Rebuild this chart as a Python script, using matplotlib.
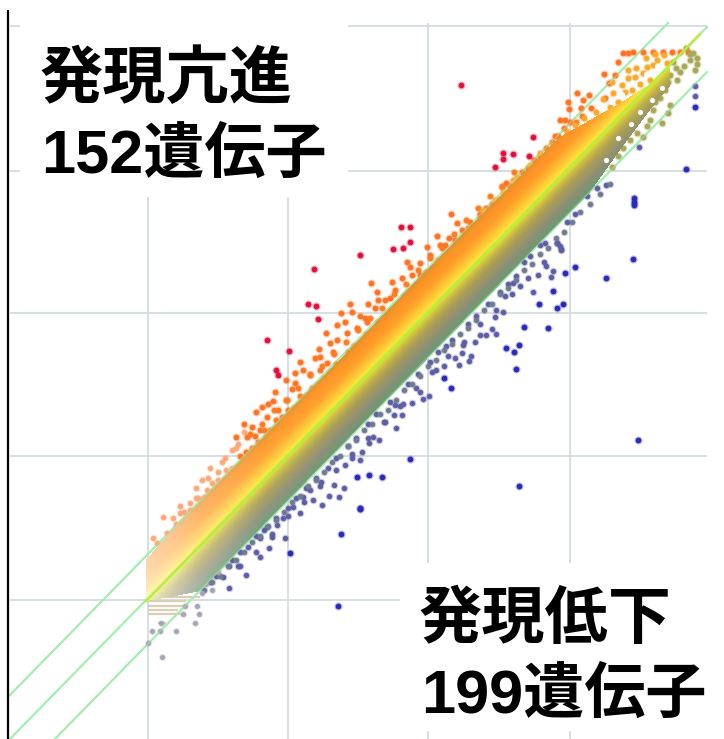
import numpy as np
import matplotlib
matplotlib.use('Agg')
import matplotlib.pyplot as plt
from matplotlib.colors import LinearSegmentedColormap

plt.rcParams['font.family'] = ['Liberation Sans', 'Noto Sans CJK JP', 'DejaVu Sans']

# scale of the plot is arbitrary (no tick labels), y grows downwards
grid_x = [148, 288, 428, 570]
grid_y = [26, 171, 313, 456, 600]

# fold-change guide lines
guide_x = [8, 707]
guide_mid = [741, 27]
guide_up_x = [8, 668]
guide_up = [697, 23]
guide_lo_x = [52, 707]
guide_lo = [742, 72]

# solid body of the cloud
band_x = [146, 170, 200, 263, 350, 427, 500, 560, 590, 620, 650, 670]
band_up = [560, 532, 501, 437, 349, 269, 197, 137, 120, 103, 84, 66]
band_mid = [601, 577, 546, 481, 393, 314, 240, 178, 148, 117, 87, 66]
band_lo = [601, 597, 591, 526, 437, 359, 284, 222, 192, 150, 110, 86]
band_fade = [0.62, 0.5, 0.3, 0.06, 0, 0, 0, 0, 0, 0, 0, 0]

# white holes where the cloud thins out at the top right
gap_x = [600, 611, 622, 634, 646, 657, 640, 652, 662, 631, 618, 606]
gap_y = [108, 102, 94, 84, 74, 66, 112, 100, 88, 124, 138, 160]

# low intensity rows, they look like stripes
row_y = [597, 601, 606, 610, 614, 623]
row_x0 = [148, 148, 148, 148, 148, 158]
row_x1 = [200, 186, 184, 178, 186, 166]

red_x = [461, 401, 410, 360, 314, 308, 316, 318, 267, 289, 393, 403, 410, 276, 278, 495, 503, 503, 513, 529, 533]
red_y = [85, 227, 227, 255, 269, 304, 306, 319, 340, 351, 249, 248, 242, 370, 375, 167, 153, 159, 154, 156, 137]

orange_x = [451, 457, 437, 449, 427, 440, 430, 407, 410, 420, 371, 392, 377, 402, 412, 420, 350, 352, 368, 378,
            390, 341, 360, 375, 337, 326, 319, 315, 330, 347, 357, 367, 337, 320, 327, 303, 295, 310, 320, 286,
            295, 275, 273, 262, 256, 287, 278, 267, 252, 260, 236, 247, 255, 555, 560, 565, 569, 568, 577, 583,
            589, 581, 591, 604, 615, 618, 609, 605, 623, 628, 633, 643, 653, 663, 672, 680, 688, 502, 506, 470,
            480, 462, 486, 445, 455, 395, 385, 365, 345, 333, 300, 292, 268, 244]
orange_y = [214, 223, 236, 238, 247, 245, 255, 262, 267, 263, 283, 282, 292, 278, 275, 275, 304, 312, 304, 300,
            298, 313, 316, 308, 325, 333, 349, 358, 343, 333, 328, 322, 340, 357, 363, 370, 373, 375, 370, 380,
            383, 392, 401, 407, 412, 400, 410, 417, 427, 430, 437, 437, 436, 136, 120, 120, 109, 102, 93, 100,
            95, 108, 108, 74, 75, 62, 83, 98, 53, 53, 52, 52, 52, 52, 52, 52, 52, 187, 183, 222, 214, 230,
            208, 245, 240, 290, 300, 318, 322, 352, 362, 389, 404, 424]

# dense orange rim just over the body
rim_up_x = [240, 246, 252, 258, 264, 270, 276, 282, 288, 294, 300, 306, 312, 318, 324, 330, 336, 342, 348, 354,
            360, 366, 372, 378, 384, 390, 396, 402, 408, 414, 420, 426, 432, 438, 444, 450, 456, 462, 468, 474,
            480, 486, 492, 498, 504, 510, 516, 522, 528, 534, 540, 546, 552, 558, 564, 570, 576, 582,
            250, 262, 274, 286, 298, 310, 322, 334, 346, 358, 370, 382, 394, 406, 418, 430, 442, 454, 466, 478,
            490, 502, 514]
rim_up_y = [456, 452, 448, 442, 430, 430, 420, 417, 410, 408, 396, 396, 388, 384, 378, 372, 364, 362, 352, 346,
            344, 334, 332, 322, 320, 312, 306, 302, 292, 290, 282, 272, 270, 260, 256, 250, 244, 238, 228, 226,
            216, 214, 204, 200, 194, 186, 182, 172, 168, 160, 156, 148, 142, 136, 128, 122, 122, 116,
            434, 424, 410, 400, 388, 374, 366, 354, 342, 330, 318, 308, 294, 284, 270, 258, 248, 234, 220, 208,
            196, 186, 172]

pale_x = [163, 173, 190, 180, 153, 157, 167, 207, 202, 244, 238, 225, 210, 232, 218, 196,
          176, 184, 190, 198, 204, 212, 218, 226, 232, 180, 196, 208, 222, 236]
pale_y = [517, 518, 503, 513, 538, 543, 533, 490, 480, 432, 444, 458, 468, 450, 472, 498,
          524, 512, 510, 498, 497, 483, 480, 470, 468, 506, 488, 478, 462, 448]

amber_x = [628, 635, 622, 625, 647, 643, 657, 653, 667, 613, 603, 575, 590, 600, 610, 530, 540, 517, 553, 567,
           513, 503, 495, 483, 618, 632, 640, 596, 584, 636, 646, 655, 664, 650, 628, 612]
amber_y = [78, 77, 85, 92, 67, 73, 60, 65, 63, 93, 99, 125, 123, 117, 107, 165, 153, 177, 145, 132,
           180, 192, 200, 210, 102, 90, 84, 112, 118, 68, 58, 54, 55, 80, 70, 82]

olive_x = [693, 697, 690, 695, 680, 670, 677, 665, 660, 670, 653, 668, 637, 643, 662, 623, 612, 686, 673, 650, 640, 628, 660, 618,
           697, 690, 684, 676, 668, 655, 647, 634, 630]
olive_y = [53, 58, 60, 70, 72, 75, 80, 90, 98, 105, 110, 113, 133, 137, 123, 148, 167, 48, 62, 120, 116, 128, 84, 156,
           64, 54, 66, 68, 82, 102, 126, 122, 140]

# grey-green rim under the body
rim_lo_x = [204, 212, 220, 228, 236, 244, 252, 260, 268, 276, 284, 292, 300, 308, 316, 324, 332, 340, 348, 356,
            364, 372, 380, 388, 396, 404, 412, 420, 428, 436, 444, 452, 460, 468, 476, 484, 492, 500, 508, 516,
            524, 532, 540, 548, 556, 564, 572, 580, 590, 600, 610]
rim_lo_y = [590, 582, 576, 566, 560, 552, 542, 536, 526, 520, 512, 502, 496, 486, 480, 472, 462, 456, 446, 440,
            430, 424, 414, 410, 400, 390, 384, 376, 366, 360, 350, 344, 334, 328, 320, 310, 304, 294, 288, 280,
            270, 264, 254, 248, 238, 232, 222, 212, 204, 194, 184]

slate_x = [695, 695, 639, 606, 597, 587, 575, 567, 557, 545, 561, 557, 561, 546, 553, 551, 538, 533, 513, 520,
           505, 503, 495, 492, 496, 486, 480, 475, 463, 462, 471, 469, 455, 459, 436, 444, 429, 423, 420, 412,
           403, 395, 402, 394, 385, 396, 379, 373, 369, 362, 360, 352, 345, 344, 334, 339, 329, 322, 321, 313,
           310, 303, 300, 293, 283, 277, 267, 260, 272, 269, 260, 248, 246, 238, 229, 229, 223, 285,
           540, 530, 524, 516, 508, 500, 488, 476, 468, 452, 446, 438, 430, 418, 408, 390, 376, 368, 356, 348,
           336, 328, 316, 306, 296, 288, 276, 264, 256, 240, 232, 216, 210,
           240, 256, 272, 288, 304, 320, 336, 352, 368, 384, 400, 416, 432, 448, 464, 480, 496, 512, 528, 544, 560]
slate_y = [96, 86, 147, 185, 188, 196, 214, 222, 243, 243, 249, 243, 250, 266, 271, 277, 275, 292, 283, 286,
           296, 312, 317, 329, 334, 335, 335, 342, 345, 353, 356, 361, 358, 365, 370, 366, 396, 399, 392, 403,
           404, 405, 415, 415, 422, 428, 440, 437, 443, 452, 460, 458, 465, 488, 485, 497, 496, 505, 482, 500,
           490, 497, 513, 507, 518, 525, 527, 538, 537, 548, 557, 547, 575, 566, 588, 566, 577, 538,
           245, 256, 262, 276, 284, 292, 304, 316, 324, 340, 346, 352, 362, 374, 384, 402, 414, 424, 438, 446,
           458, 468, 478, 488, 498, 508, 518, 530, 536, 552, 560, 576, 582,
           566, 552, 534, 516, 502, 486, 470, 454, 438, 422, 406, 388, 372, 356, 342, 324, 310, 294, 278, 262, 246]

blue_x = [695, 686, 634, 634, 634, 633, 606, 575, 565, 553, 539, 563, 557, 524, 548, 519, 506, 514, 516, 444,
          451, 410, 382, 369, 357, 360, 519, 638, 360, 341, 338, 290]
blue_y = [107, 169, 198, 202, 205, 259, 278, 267, 273, 291, 304, 304, 308, 327, 328, 345, 348, 352, 369, 378,
          388, 459, 477, 475, 477, 508, 486, 440, 509, 534, 606, 553]

grey_x = [197, 199, 195, 176, 162, 183, 161, 160, 152, 148, 202, 185, 212, 218, 206]
grey_y = [606, 614, 623, 631, 657, 614, 623, 631, 631, 643, 593, 606, 590, 572, 584]

title_up = ['発現亢進', '152遺伝子']
title_down = ['発現低下', '199遺伝子']

band_cmap = LinearSegmentedColormap.from_list('band', [
    (0.00, '#6c9a72'), (0.14, '#8a8f78'), (0.30, '#a89c58'), (0.38, '#bcae4c'), (0.46, '#d8cc3c'),
    (0.50, '#e6e43c'), (0.56, '#ffe03c'), (0.66, '#ffc034'), (0.78, '#ff9f2a'), (0.92, '#ff9226'),
    (1.00, '#d99430')])


def dots(ax, x, y, color, size=17):
    ax.scatter(x, y, s=size * 2.0, color=color, alpha=0.3, linewidths=0, zorder=4)
    ax.scatter(x, y, s=size, color=color, linewidths=0, zorder=4)


def band_image():
    # colour by distance from the centre line, masked to the body
    xx, yy = np.meshgrid(np.arange(0, 724) + 0.5, np.arange(0, 739) + 0.5)
    up = np.interp(xx, band_x, band_up)
    mid = np.interp(xx, band_x, band_mid)
    lo = np.interp(xx, band_x, band_lo)
    fade = np.interp(xx, band_x, band_fade)
    val = np.clip(0.5 + (mid - yy) / 88.0, 0, 1)
    rgba = band_cmap(val)
    rgba[..., :3] = rgba[..., :3] * (1 - fade[..., None]) + fade[..., None]
    rgba[..., 3] = ((yy >= up) & (yy <= lo) & (xx >= band_x[0]) & (xx <= band_x[-1])).astype(float)
    return rgba


fig = plt.figure(figsize=(7.24, 7.39), dpi=100)
ax = fig.add_axes([0, 0, 1, 1])

ax.vlines(grid_x, 23, 739, color='#d3dcdf', linewidth=1.3, zorder=1)
ax.hlines(grid_y, 10, 707, color='#d3dcdf', linewidth=1.3, zorder=1)

# guide lines sit under the cloud, only the ends stay visible
ax.plot(guide_up_x, guide_up, color='#a4eeb0', linewidth=1.6, zorder=2)
ax.plot(guide_lo_x, guide_lo, color='#a4eeb0', linewidth=1.6, zorder=2)
ax.plot(guide_x, guide_mid, color='#a4eeb0', linewidth=1.6, zorder=2)

# scatter fringe under the body
dots(ax, pale_x, pale_y, '#ffa878', 15)
dots(ax, orange_x, orange_y, '#ff7424')
dots(ax, rim_up_x, rim_up_y, '#ff7c22')
dots(ax, amber_x, amber_y, '#fba92c')
dots(ax, olive_x, olive_y, '#a8a858')
dots(ax, slate_x, slate_y, '#5e5ea6', 15)
dots(ax, rim_lo_x, rim_lo_y, '#6e7c92', 15)
dots(ax, grey_x, grey_y, '#a5a5b5', 13)
dots(ax, blue_x, blue_y, '#2a2ab8')
dots(ax, red_x, red_y, '#e2103c')

ax.hlines(row_y, row_x0, row_x1, color='#d8cfb4', linewidth=1.6, zorder=3)

ax.imshow(band_image(), extent=(0, 724, 739, 0), aspect='auto', interpolation='bilinear', zorder=5)
ax.scatter(gap_x, gap_y, s=14, color='white', linewidths=0, zorder=6)

ax.plot([band_x[0], 700], [band_mid[0], guide_mid[0] - (guide_mid[0] - guide_mid[1]) * (700 - guide_x[0]) / (guide_x[1] - guide_x[0])],
        color='#b2f03a', linewidth=1.8, zorder=8)
ax.plot(guide_up_x, guide_up, color='#a4eeb0', linewidth=1.0, alpha=0.5, zorder=7)
ax.plot(guide_lo_x, guide_lo, color='#a4eeb0', linewidth=1.0, alpha=0.5, zorder=7)

# white boxes behind the captions hide the grid
ax.fill_between([20, 348], 20, 197, color='white', linewidth=0, zorder=9)
ax.fill_between([400, 724], 563, 731, color='white', linewidth=0, zorder=9)

ax.text(40, 81, title_up[0], fontsize=45.5, fontweight='bold', color='black', va='center', ha='left', zorder=10)
ax.text(41, 157, title_up[1], fontsize=44, fontweight='bold', color='black', va='center', ha='left', zorder=10)
ax.text(419, 621, title_down[0], fontsize=45.5, fontweight='bold', color='black', va='center', ha='left', zorder=10)
ax.text(421, 697, title_down[1], fontsize=44, fontweight='bold', color='black', va='center', ha='left', zorder=10)

ax.vlines([8], 10, 739, color='black', linewidth=1.6, zorder=11)

ax.set_xlim(0, 724)
ax.set_ylim(739, 0)
ax.axis('off')

fig.savefig('out.png', dpi=100)
